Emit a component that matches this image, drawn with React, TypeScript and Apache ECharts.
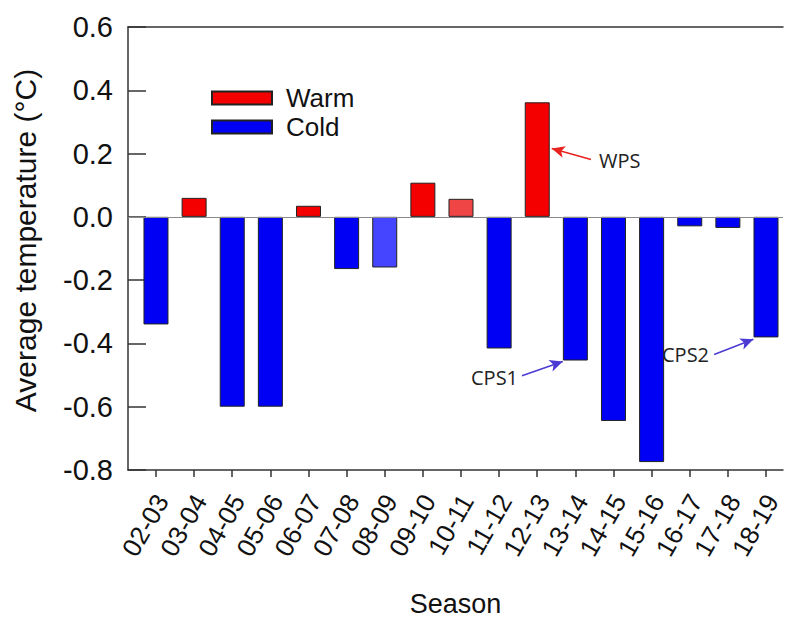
import React, { useEffect, useRef } from "react";
import * as echarts from "echarts";

// Seasonal mean temperature anomaly (°C), one value per winter season
const seasons = [
  "02-03", "03-04", "04-05", "05-06", "06-07", "07-08", "08-09", "09-10",
  "10-11", "11-12", "12-13", "13-14", "14-15", "15-16", "16-17", "17-18", "18-19",
];
const anomalies = [
  -0.34, 0.06, -0.6, -0.6, 0.035, -0.165, -0.16, 0.108,
  0.057, -0.416, 0.362, -0.454, -0.645, -0.775, -0.03, -0.035, -0.381,
];
const yTicks = [-0.8, -0.6, -0.4, -0.2, 0.0, 0.2, 0.4, 0.6];
// seasons drawn in a lighter shade
const paleSeasons = ["08-09", "10-11"];

// annotated seasons: [label, season index]
const callouts: [string, number][] = [
  ["WPS", 10],
  ["CPS1", 11],
  ["CPS2", 16],
];

const FONT = "'Liberation Sans', Arial, sans-serif";
const NOTE_FONT = "'Open Sans', 'Noto Sans', sans-serif";
const WARM = "#f50000";
const WARM_PALE = "#f04545";
const COLD = "#0000f5";
const COLD_PALE = "#4545ff";

export default function App() {
  const ref = useRef<HTMLDivElement>(null);

  useEffect(() => {
    if (!ref.current) return;
    const chart = echarts.init(ref.current, undefined, { renderer: "svg" });
    const idx = seasons.map((_, i) => i);
    const xMin = -0.734;
    const xMax = 16.446;

    const bar = (i: number, v: number) => {
      const pale = paleSeasons.includes(seasons[i]);
      const color = v >= 0 ? (pale ? WARM_PALE : WARM) : pale ? COLD_PALE : COLD;
      return { value: [i, v], itemStyle: { color } };
    };
    const warmData = anomalies.map((v, i) => (v >= 0 ? bar(i, v) : null)).filter(Boolean);
    const coldData = anomalies.map((v, i) => (v < 0 ? bar(i, v) : null)).filter(Boolean);

    // arrow geometry for the callouts, in axis units relative to the bar
    const half = 0.33;
    const arrowFor = (name: string, i: number) => {
      const v = anomalies[i];
      if (name === "WPS") {
        return [
          { coord: [i + 1.41, v - 0.181], lineStyle: { color: "#e8231f" } },
          { coord: [i + half + 0.05, v - 0.146] },
        ];
      }
      if (name === "CPS1") {
        return [
          { coord: [i - 1.4, v - 0.048], lineStyle: { color: "#4b3bd4" } },
          { coord: [i - half, v - 0.003] },
        ];
      }
      return [
        { coord: [i - 1.36, v - 0.054], lineStyle: { color: "#4b3bd4" } },
        { coord: [i - half, v - 0.006] },
      ];
    };

    const axisColor = "#333";

    chart.setOption({
      animation: false,
      backgroundColor: "#fff",
      grid: {
        left: 128,
        right: 2,
        top: 27,
        bottom: 153,
        containLabel: false,
        outerBoundsMode: "none",
      },
      legend: {
        data: ["Warm", "Cold"],
        left: 211,
        top: 84,
        orient: "vertical",
        icon: "rect",
        itemWidth: 60,
        itemHeight: 13,
        itemGap: 1,
        padding: 0,
        selectedMode: false,
        textStyle: {
          fontFamily: FONT,
          fontSize: 26,
          color: "#111",
          lineHeight: 28,
          padding: [0, 0, 0, 9],
        },
      },
      xAxis: [
        {
          type: "value",
          position: "bottom",
          min: xMin,
          max: xMax,
          splitLine: { show: false },
          axisLine: { onZero: false, lineStyle: { color: axisColor, width: 1.5 } },
          axisTick: {
            customValues: idx,
            length: 7,
            lineStyle: { color: axisColor, width: 1.5 },
          },
          axisLabel: {
            customValues: idx,
            formatter: (v: number) => seasons[Math.round(v)] ?? "",
            rotate: 60,
            margin: 23,
            verticalAlign: "top",
            hideOverlap: false,
            fontFamily: FONT,
            fontSize: 26,
            lineHeight: 14,
            color: "#111",
          },
          name: "Season",
          nameLocation: "middle",
          nameGap: 120,
          nameTextStyle: { fontFamily: FONT, fontSize: 27, color: "#111" },
        },
        {
          type: "value",
          position: "top",
          min: xMin,
          max: xMax,
          splitLine: { show: false },
          axisLine: { show: true, onZero: false, lineStyle: { color: axisColor, width: 1.5 } },
          axisTick: { show: false },
          axisLabel: { show: false },
        },
      ],
      yAxis: {
        type: "value",
        min: yTicks[0],
        max: yTicks[yTicks.length - 1],
        interval: 0.2,
        splitLine: { show: false },
        axisLine: { show: true, onZero: false, lineStyle: { color: axisColor, width: 1.5 } },
        axisTick: { inside: true, length: 18, lineStyle: { color: axisColor, width: 1.5 } },
        axisLabel: {
          formatter: (v: number) => v.toFixed(1),
          margin: 15,
          fontFamily: FONT,
          fontSize: 29,
          color: "#111",
        },
        name: "Average temperature (°C)",
        nameLocation: "middle",
        nameGap: 88,
        nameTextStyle: {
          fontFamily: FONT,
          fontSize: 30,
          color: "#111",
          padding: [0, 0, 0, 16],
        },
      },
      series: [
        {
          name: "Cold",
          type: "bar",
          barWidth: 25,
          barGap: "-100%",
          itemStyle: { color: COLD, borderColor: "#222", borderWidth: 1 },
          data: coldData,
          markLine: {
            silent: true,
            symbol: "none",
            label: { show: false },
            lineStyle: { color: "#8a8a8a", width: 1, type: "solid" },
            data: [{ yAxis: 0 }],
          },
        },
        {
          name: "Warm",
          type: "bar",
          barWidth: 25,
          barGap: "-100%",
          itemStyle: { color: WARM, borderColor: "#222", borderWidth: 1 },
          data: warmData,
          markLine: {
            silent: true,
            symbol: ["none", "arrow"],
            symbolSize: [9, 13],
            label: { show: false },
            lineStyle: { width: 1.5, type: "solid" },
            data: callouts.map(([name, i]) => arrowFor(name, i)),
          },
        },
      ],
      graphic: [
        { type: "text", x: 599, y: 160, style: { text: "WPS", fontFamily: NOTE_FONT, fontSize: 20, fill: "#222", verticalAlign: "middle" } },
        { type: "text", x: 471, y: 377, style: { text: "CPS1", fontFamily: NOTE_FONT, fontSize: 20, fill: "#222", verticalAlign: "middle" } },
        { type: "text", x: 662, y: 354, style: { text: "CPS2", fontFamily: NOTE_FONT, fontSize: 20, fill: "#222", verticalAlign: "middle" } },
      ],
    });

    return () => chart.dispose();
  }, []);

  return (
    <div
      ref={ref}
      style={{ position: "absolute", left: 0, top: 0, width: 785, height: 623 }}
    />
  );
}
